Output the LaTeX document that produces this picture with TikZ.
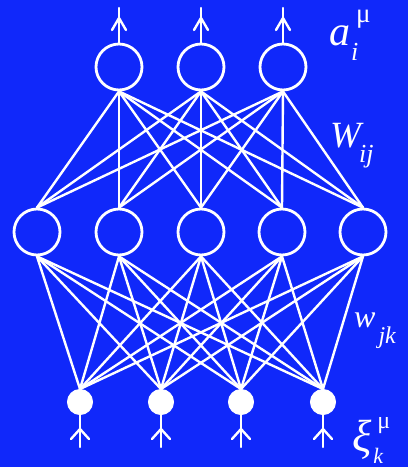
\documentclass[tikz,border=0pt]{standalone}
\usepackage{fontspec}
\setmainfont{Liberation Serif}
\definecolor{bgblue}{RGB}{16,40,250}
\newcommand{\fsz}[1]{\fontsize{#1}{#1}\selectfont}
\tikzset{
  neuron/.style={circle, draw=white, line width=2.8pt, minimum size=46pt, inner sep=0pt},
  inputunit/.style={circle, fill=white, draw=white, line width=1pt, minimum size=25pt, inner sep=0pt},
  wire/.style={white, line width=2.4pt, line cap=round},
  lbl/.style={text=white, inner sep=0pt, anchor=base west, font=\itshape}
}
\begin{document}
\begin{tikzpicture}[x=1pt,y=-1pt]
\fill[bgblue] (0,0) rectangle (408,467);
\useasboundingbox (0,0) rectangle (408,467);
% units
\foreach \x [count=\i] in {119,201,283} \node[neuron] (o\i) at (\x,67) {};
\foreach \x [count=\i] in {37,119,201,282,363} \node[neuron] (h\i) at (\x,232) {};
\foreach \x [count=\i] in {80,161,241,323} \node[inputunit] (in\i) at (\x,402) {};
% weights
\foreach \i in {1,2,3} \foreach \j in {1,...,5} \draw[wire] (o\i.south) -- (h\j.north);
\foreach \j in {1,...,5} \foreach \k in {1,...,4} \draw[wire] (h\j.south) -- (in\k.north);
% output arrows
\foreach \x [count=\i] in {119,201,283} {
  \coordinate (ot\i) at (\x,8);
  \coordinate (ob\i) at (\x,18);
  \draw[wire] (o\i.north) -- (ot\i);
  \draw[wire] (ob\i) ++(-7,12) -- (ob\i) -- ++(7,12);
}
% input arrows
\foreach \x [count=\i] in {80,161,241,323} {
  \coordinate (ib\i) at (\x,447);
  \coordinate (ij\i) at (\x,429);
  \draw[wire] (in\i.south) -- (ib\i);
  \draw[wire] (ij\i) ++(-9,10) -- (ij\i) -- ++(9,10);
}
% labels
\node[lbl] (la) at (329,45) {\fsz{42}a\kern1pt\rlap{\kern5pt\raisebox{23pt}{\fsz{27}\upshape μ}}\raisebox{-15pt}{\fsz{26}i}};
\node[lbl] (lW) at (330,147) {\fsz{37}W\kern-2pt\raisebox{-15pt}{\fsz{26}ij}};
\node[lbl] (lw) at (354,327) {\fsz{32}w\kern3pt\raisebox{-16pt}{\fsz{24}jk}};
\node[lbl] (lx) at (352,451) {\fsz{45}ξ\kern2pt\rlap{\kern4pt\raisebox{23pt}{\fsz{24}\upshape μ}}\raisebox{-12pt}{\fsz{22}k}};
\end{tikzpicture}
\end{document}
